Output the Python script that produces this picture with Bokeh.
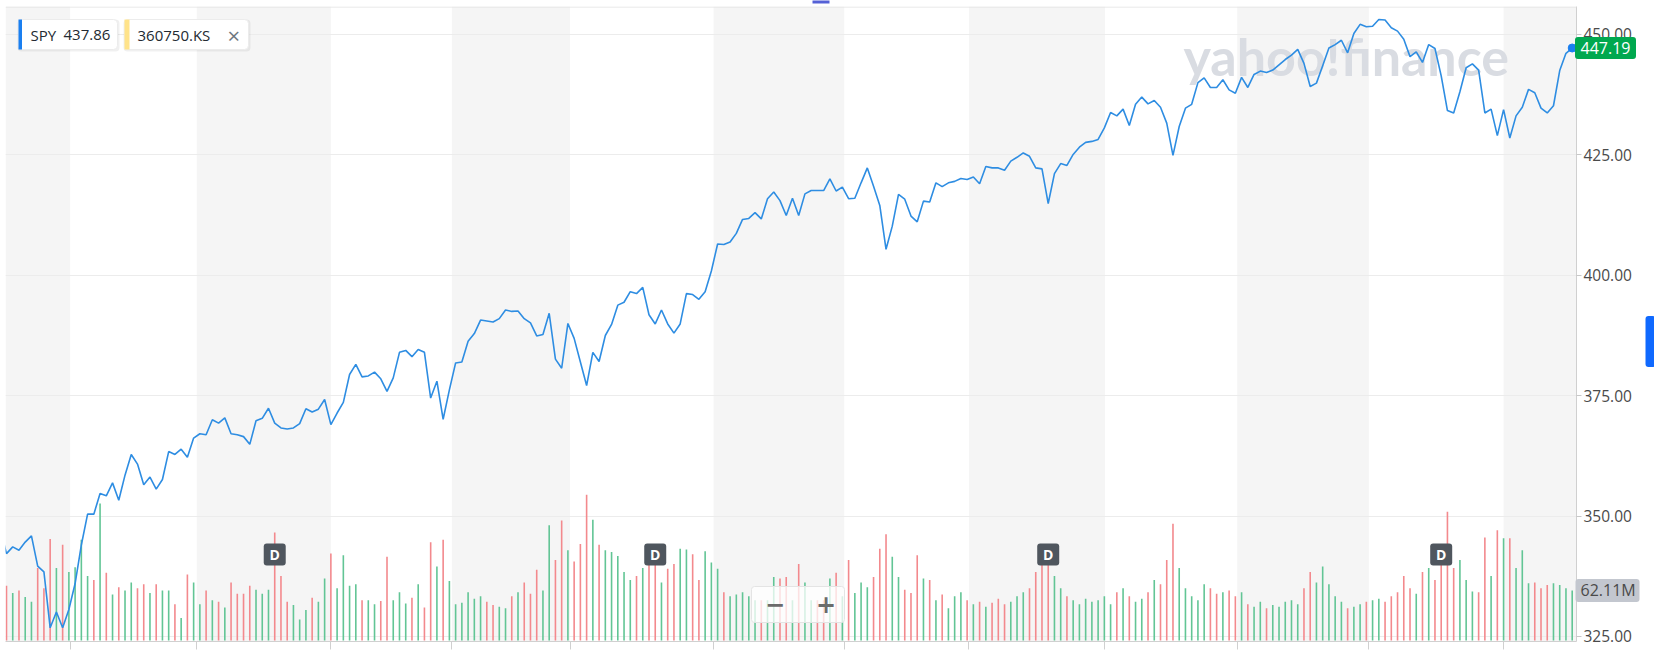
from bokeh.plotting import figure
from bokeh.models import Range1d, FixedTicker, NumeralTickFormatter, BoxAnnotation, Span, Label, Rect, Quad
from bokeh.core.properties import value
from bokeh.embed import file_html
from bokeh.resources import INLINE

# ---------------- data ----------------
prev_close = 347.3  # point just left of the visible window
closes = [
    342.2, 343.6, 342.9, 344.6, 345.9, 339.6, 338.4, 326.8, 330.1, 326.8,
    330.6, 336.0, 344.0, 350.4, 350.4, 354.7, 354.2, 356.9, 353.3, 358.5,
    362.8, 360.8, 356.5, 358.1, 355.6, 357.6, 363.4, 362.8, 363.9, 362.2,
    366.2, 367.1, 366.9, 370.0, 369.3, 370.4, 367.1, 366.9, 366.5, 364.9,
    369.8, 370.3, 372.4,
    369.3, 368.3, 368.1, 368.3, 369.2, 372.3, 371.6, 372.2, 374.2, 369.0,
    371.4, 373.6, 379.4, 381.5, 378.9, 379.1, 379.9, 378.5, 375.9, 378.7,
    384.0, 384.4, 383.1, 384.6, 384.0, 374.5, 378.0, 370.1, 376.2, 381.8,
    382.0, 386.3, 387.9, 390.7, 390.5, 390.3, 391.0, 392.8, 392.5, 392.6,
    391.0, 390.1, 387.4, 387.7, 392.1,
    382.6, 380.7, 390.0, 386.9, 382.0, 377.1, 384.0, 382.1, 387.5, 389.8,
    393.8, 394.4, 396.6, 396.2, 397.5, 391.8, 389.9, 392.8, 389.9, 388.0,
    389.9, 396.2, 396.0, 395.0, 396.6, 400.9, 406.5, 406.4, 406.9, 408.7,
    411.6, 411.8, 413.0, 411.7, 415.9, 417.3, 415.5, 412.4, 416.0, 412.4,
    416.9, 417.6, 417.6, 417.6, 420.0,
    417.5, 418.3, 415.9, 416.0, 419.2, 422.3, 418.5, 414.5, 405.4, 410.2,
    416.8, 415.8, 412.3, 411.1, 415.4, 415.2, 419.2, 418.4, 419.2, 419.5,
    420.1, 419.9, 420.4, 419.0, 422.6, 422.3, 422.3, 421.8, 423.7, 424.5,
    425.4, 424.7, 422.3, 422.1, 414.9, 421.1, 423.2, 422.8, 425.1, 426.6,
    427.6, 427.8, 428.2,
    430.6, 433.8, 433.1, 434.5, 431.1, 435.5, 437.0, 435.6, 436.3, 434.9,
    431.6, 424.9, 430.9, 434.7, 435.5, 440.0, 441.0, 439.0, 439.0, 440.6,
    438.5, 437.8, 441.1, 439.0, 441.7, 442.4, 442.1, 442.6, 443.7, 444.8,
    445.7, 446.9, 444.0, 439.2, 439.9, 443.5, 447.2, 447.9, 448.8, 446.2,
    450.2, 452.1,
    451.6, 451.7, 453.1, 453.0, 451.4, 450.7, 449.0, 445.4, 446.4, 444.2,
    447.9, 447.1, 441.4, 434.2, 433.7, 438.1, 443.1, 443.9, 442.6, 433.7,
    434.5, 429.0, 434.4, 428.5, 433.1, 434.9, 438.6, 437.9, 434.7, 433.7,
    435.2, 442.5, 446.1, 447.19,
]
volumes_m = [
    68, 59, 62, 54, 48, 90, 65, 126, 90, 119, 85, 91, 125, 80, 75, 170, 84, 57, 66, 62,
    72, 65, 70, 59, 70, 62, 62, 45, 28, 82, 72, 45, 62, 50, 48, 41, 72, 58, 58, 68,
    63, 58, 63, 134,
    80,
    48, 44, 26, 38, 53, 48, 77, 108, 65, 106, 68, 70, 50, 50, 45, 49, 104, 50, 60, 46,
    53, 70, 41, 122, 92, 125, 74,
    45, 47, 60, 52, 55, 48, 44, 42, 40, 55, 60, 72, 58, 88, 62, 143, 100, 149, 112, 98,
    120, 181, 150, 119, 112, 110, 105, 85, 75, 80, 90, 110,
    106, 72, 89, 95, 114, 113, 107, 75, 111, 97, 89, 60, 55, 57, 60, 55, 50, 50, 50, 79,
    77, 79, 50, 95, 72, 50, 50, 50, 77, 84, 55, 100, 59, 72, 66, 79, 114, 132, 104, 79,
    63, 59, 106, 77, 75, 50, 57, 40,
    55, 60, 50, 45, 48, 42, 47, 52, 45, 48, 55, 60, 65, 85, 95, 118, 80, 65, 55, 50,
    45, 52, 48, 50, 55, 45, 60, 65, 55, 48, 52, 60, 75, 70, 100, 145, 90, 65, 55, 50,
    70, 65, 58, 60, 62, 55, 60, 45, 42, 48, 40, 44, 42, 48, 50, 45, 65, 85, 72, 92,
    70, 55, 48, 40, 42, 45, 48, 50, 52, 48, 55, 60, 80, 65, 58, 85, 90, 75, 110, 160,
    90, 100, 75, 61, 60, 128, 80, 137, 127, 127, 90, 112, 71, 72, 65, 69, 71, 69, 65, 62.11,
]
month_ticks = [10.2, 30.5, 52.0, 71.4, 90.35, 113.35, 134.3, 154.3, 176.1, 197.3, 218.4, 240.0]
dividend_idx = [43, 104, 167, 230]
price_ticks = [325, 350, 375, 400, 425, 450]
spy_symbol, spy_value = "SPY", "437.86"
compare_symbol = "360750.KS"
last_price_text = "447.19"
last_volume_text = "62.11M"

# ---------------- layout constants (page pixels) ----------------
W, H = 1654, 650
FL, FT, FR, FB = 5, 6, 1576, 641          # frame edges
X0, X1 = -0.16, 251.69
Y0, Y1 = 323.96, 455.81
VOL0, VOL1 = -1.24, 787.4
SX = (FR - FL) / (X1 - X0)
SY = (FB - FT) / (Y1 - Y0)


def px2x(px):  # page pixel -> data x (for UI overlays only)
    return X0 + (px - FL) / SX


def py2y(py):  # page pixel -> data y (for UI overlays only)
    return Y1 - (py - FT) / SY


RR = {"border_radius": 3} if "border_radius" in Rect.properties() else {}
QR = {"border_radius": 4} if "border_radius" in Quad.properties() else {}

UP, DOWN = "#62c595", "#f3898d"
n = len(closes)
idx = list(range(n))
prevs = [prev_close] + closes[:-1]
vol_colors = [UP if c > pc else DOWN for c, pc in zip(closes, prevs)]

p = figure(width=W, height=H, output_backend="svg", toolbar_location=None,
           x_range=Range1d(X0, X1), y_range=Range1d(Y0, Y1),
           y_axis_location="right", min_border_left=FL, min_border_top=FT,
           min_border_right=W - FR, min_border_bottom=H - FB)
p.outline_line_color = None
p.background_fill_color = "white"
p.border_fill_color = "white"
p.extra_y_ranges = {"vol": Range1d(VOL0, VOL1)}

# month shading
bounds = [None] + month_ticks + [None]
for k in range(0, len(bounds) - 1, 2):
    p.add_layout(BoxAnnotation(left=bounds[k], right=bounds[k + 1], fill_color="#f5f5f5",
                               fill_alpha=1.0, line_color=None, level="image"))

# grid
p.xgrid.visible = False
p.ygrid.ticker = FixedTicker(ticks=price_ticks)
p.ygrid.grid_line_color = "#ececec"

# axes
ya = p.yaxis[0]
ya.ticker = FixedTicker(ticks=price_ticks)
ya.formatter = NumeralTickFormatter(format="0.00")
ya.major_label_text_font = "Open Sans"
ya.major_label_text_font_size = "15.5px"
ya.major_label_text_color = "#4a4a4a"
ya.axis_line_color = "#d0d0d0"
ya.major_tick_line_color = "#c8c8c8"
ya.major_tick_out = 5
ya.major_tick_in = 0
ya.minor_tick_line_color = None
ya.major_label_standoff = 2

xa = p.xaxis[0]
xa.ticker = FixedTicker(ticks=month_ticks)
xa.major_label_text_font_size = "1px"
xa.major_label_text_color = None
xa.major_label_standoff = 0
xa.axis_line_color = "#d0d0d0"
xa.major_tick_line_color = "#d0d0d0"
xa.major_tick_out = 8
xa.major_tick_in = 0
xa.minor_tick_line_color = None

p.add_layout(Span(location=Y1 - 0.5 / SY, dimension="width", line_color="#e2e2e2", line_width=1))

# watermark
p.add_layout(Label(x=px2x(1183), y=py2y(55), text="yahoo!finance", text_font="Lato",
                   text_font_style="bold", text_font_size="52px", text_color="#d9dce2",
                   text_baseline="alphabetic", level="underlay"))

# volume bars
p.segment(x0=idx, y0=[0] * n, x1=idx, y1=volumes_m, line_color=vol_colors,
          line_width=1.6, y_range_name="vol")

# price line
p.line([-1] + idx, [prev_close] + closes, line_color="#2e8de2", line_width=1.6)
p.scatter([idx[-1]], [closes[-1]], size=8, color="#1a7ff0", level="annotation")

# dividend markers
dy = py2y(554)
p.rect(x=dividend_idx, y=[dy] * len(dividend_idx), width=22, height=22,
       width_units="screen", height_units="screen", fill_color="#4f565e", line_color=None, **RR)
p.text(x=dividend_idx, y=[dy] * len(dividend_idx), text=["D"] * len(dividend_idx),
       text_color="white", text_font=value("Open Sans"), text_font_style="bold",
       text_font_size="14px", text_align="center", text_baseline="middle")

# zoom control
p.rect(x=[px2x(797.5)], y=[py2y(604)], width=93, height=36, width_units="screen",
       height_units="screen", fill_color="white", fill_alpha=0.75, line_color="#e4e4e4", **RR)
p.text(x=[px2x(774.5), px2x(825.5)], y=[py2y(603)] * 2, text=["\u2212", "+"],
       text_color="#6b6b6b", text_font=value("DejaVu Sans"), text_font_style="bold",
       text_font_size="24px", text_align="center", text_baseline="middle")

# legend chips (soft shadow, white body, coloured strip)
p.quad(left=[px2x(17), px2x(123)], right=[px2x(119), px2x(250)],
       top=[py2y(19)] * 2, bottom=[py2y(51)] * 2, fill_color="#000000", fill_alpha=0.06,
       line_color=None, **QR)
p.quad(left=[px2x(18), px2x(124)], right=[px2x(117), px2x(248)],
       top=[py2y(19)] * 2, bottom=[py2y(49)] * 2, fill_color="white",
       line_color="#ececec", **QR)
p.quad(left=[px2x(18), px2x(124)], right=[px2x(21.5), px2x(129)],
       top=[py2y(19)] * 2, bottom=[py2y(49)] * 2, fill_color=["#1a7ff0", "#ffe38a"],
       line_color=None)
for px, txt, col, size in [(30, spy_symbol, "#232a31", "15px"), (63, spy_value, "#232a31", "15px"),
                           (137, compare_symbol, "#232a31", "15px"), (227, "\u00d7", "#6e7780", "22px")]:
    p.add_layout(Label(x=px2x(px), y=py2y(34), text=txt, text_font="Open Sans",
                       text_font_size=size, text_color=col, text_baseline="middle"))

# right-hand value tags (drawn at annotation level so they can sit over the axis)
p.rect(x=[px2x(1605)], y=[closes[-1]], width=61, height=22, width_units="screen",
       height_units="screen", fill_color="#00a84f", line_color=None, level="annotation", **RR)
p.text(x=[px2x(1580)], y=[closes[-1]], text=[last_price_text], text_color="white",
       text_font=value("Open Sans"), text_font_size="16px", text_baseline="middle",
       level="annotation")
p.rect(x=[px2x(1607)], y=[volumes_m[-1]], y_range_name="vol", width=64, height=23,
       width_units="screen", height_units="screen", fill_color="#c3c7cf", line_color=None,
       level="annotation", **RR)
p.text(x=[px2x(1580)], y=[volumes_m[-1]], y_range_name="vol", text=[last_volume_text],
       text_color="#4a4a4a", text_font=value("Open Sans"), text_font_size="16px",
       text_baseline="middle", level="annotation")

# small UI marks at the edges
p.rect(x=[px2x(1650)], y=[py2y(341)], width=10, height=51, width_units="screen",
       height_units="screen", fill_color="#0f69ff", line_color=None, level="annotation", **RR)
p.rect(x=[px2x(820.5)], y=[py2y(1.5)], width=17, height=3, width_units="screen",
       height_units="screen", fill_color="#5561d6", line_color=None, level="annotation")

open("out.html", "w").write(file_html(p, INLINE))
